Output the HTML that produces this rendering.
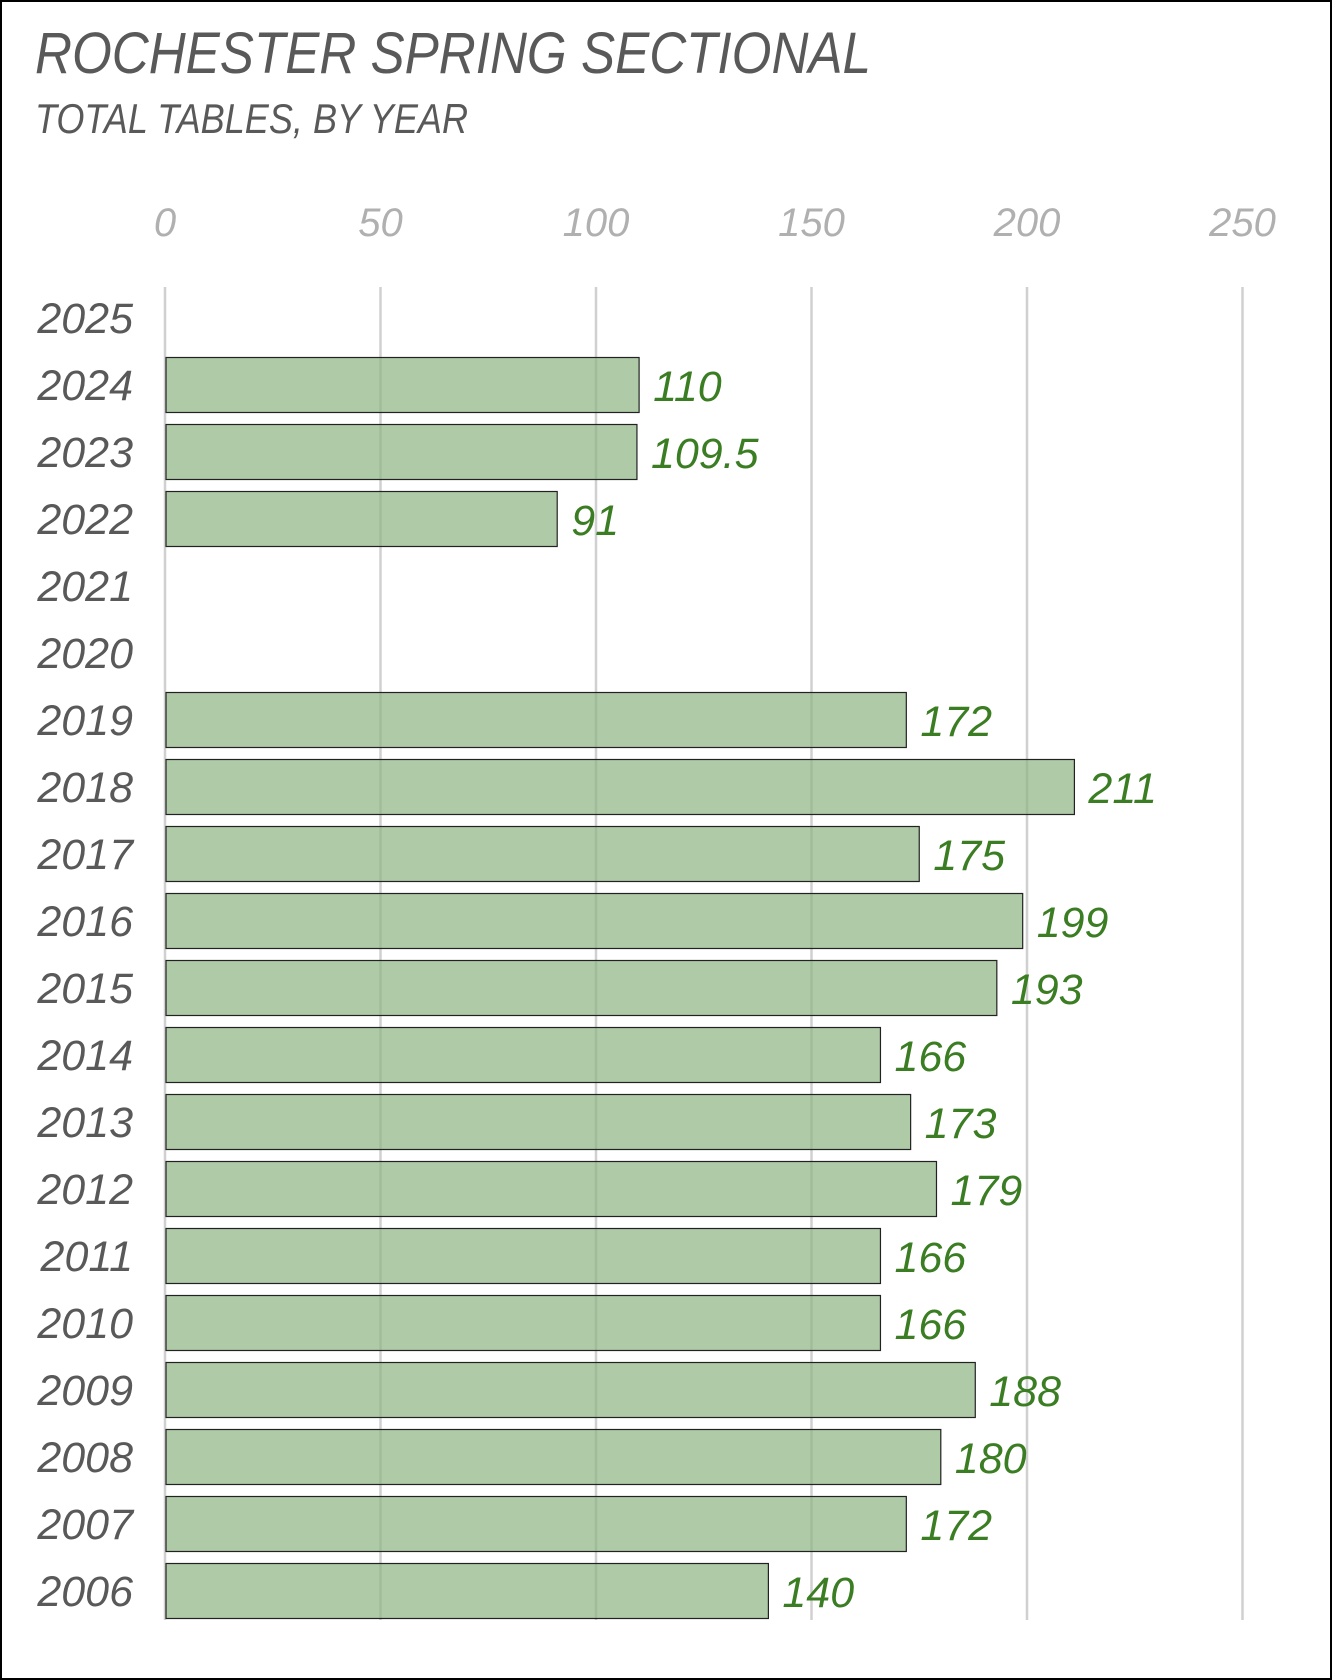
<!DOCTYPE html>
<html><head><meta charset="utf-8"><style>
html,body{margin:0;padding:0;background:#fff}
svg{display:block}
text{font-family:"Liberation Sans",sans-serif;font-style:italic}
</style></head><body>
<svg id="chart" width="1332" height="1680" viewBox="0 0 1332 1680">
<rect x="1" y="1" width="1330" height="1678" fill="#fff" stroke="#000" stroke-width="2"/>
<text x="35" y="73" font-size="58" fill="#595959" textLength="836" lengthAdjust="spacingAndGlyphs">ROCHESTER SPRING SECTIONAL</text>
<text x="35" y="133" font-size="42" fill="#595959" textLength="433" lengthAdjust="spacingAndGlyphs">TOTAL TABLES, BY YEAR</text>
<g id="grid"></g><g id="bars"></g>
</svg>
<script>
const years=["2025","2024","2023","2022","2021","2020","2019","2018","2017","2016","2015","2014","2013","2012","2011","2010","2009","2008","2007","2006"];
const values=[null,110,109.5,91,null,null,172,211,175,199,193,166,173,179,166,166,188,180,172,140];
const ticks=[0,50,100,150,200,250];
const NS="http://www.w3.org/2000/svg";
const x=v=>165+v*4.31;
const y=i=>318+i*67;
function mk(t,a,p){const e=document.createElementNS(NS,t);for(const k in a)e.setAttribute(k,a[k]);p.appendChild(e);return e;}
const grid=document.getElementById('grid'),bars=document.getElementById('bars');
ticks.forEach(t=>{
  const l=mk('line',{x1:x(t),x2:x(t),y1:287,y2:1620,stroke:'#d0d0d0','stroke-width':2.5},grid);
  
  
  const tx=mk('text',{x:x(t),y:236,'font-size':40,fill:'#b0b0b0','text-anchor':'middle'},grid);
  tx.textContent=t;
  
  
});
years.forEach((yr,i)=>{
  const lab=mk('text',{x:133,y:y(i)+15,'font-size':43,fill:'#595959','text-anchor':'end'},bars);
  lab.textContent=yr;
  
  
  const v=values[i];
  if(v==null)return;
  const r=mk('rect',{x:x(0)+1,y:y(i)-27.5,width:x(v)-x(0)-1,height:55,fill:'rgba(140,180,130,0.7)',stroke:'#222','stroke-width':1.2},bars);
  
  
  const vt=mk('text',{x:x(v)+14,y:y(i)+16,'font-size':43,fill:'#3b7d23'},bars);
  vt.textContent=v;
  
  
});
</script>
</body></html>
